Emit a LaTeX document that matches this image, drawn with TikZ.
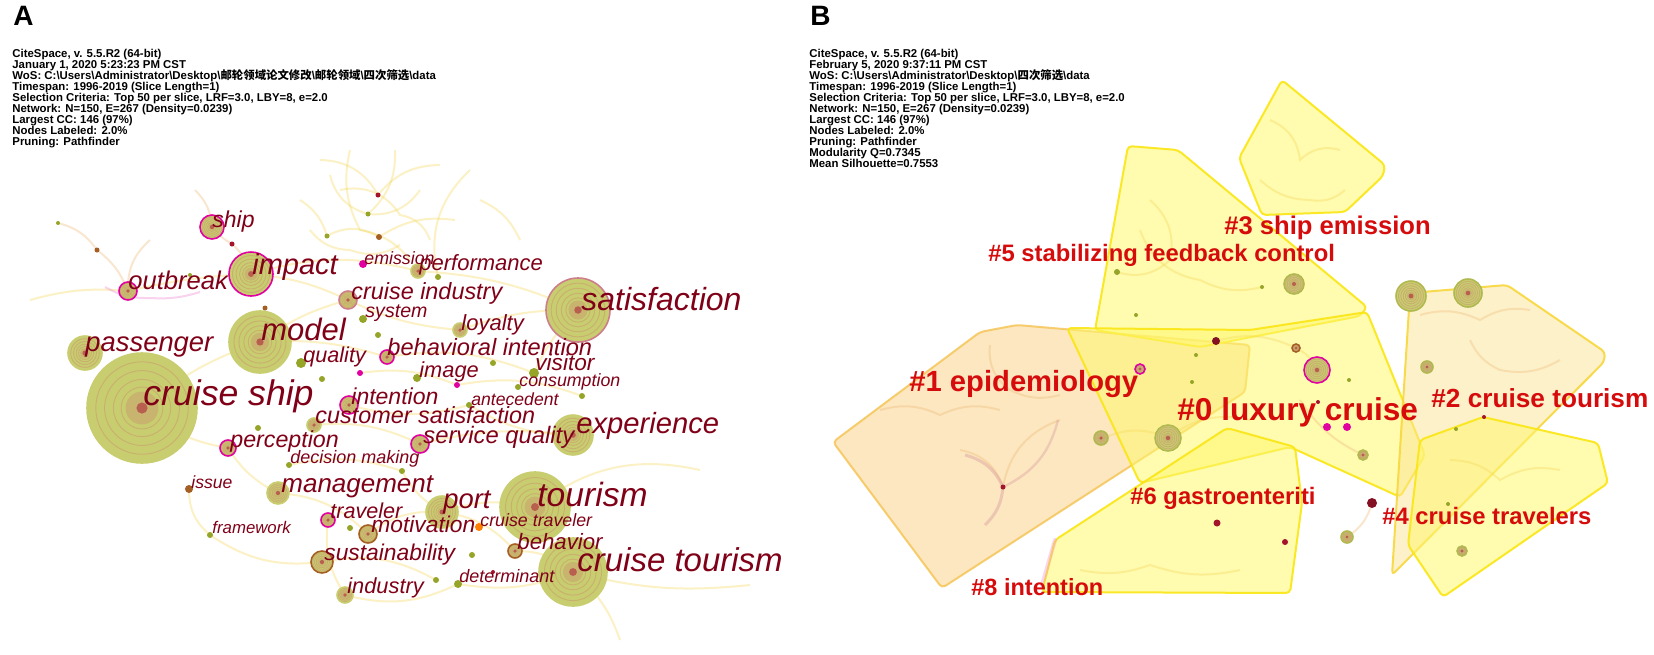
\documentclass[tikz,border=0pt]{standalone}
\usepackage{fontspec}
\setmainfont{Liberation Sans}
\newfontfamily\cjk{Noto Sans CJK SC}
\definecolor{kwred}{RGB}{128,0,24}
\definecolor{clred}{RGB}{214,12,12}
\definecolor{olv}{RGB}{200,206,112}
\definecolor{olvd}{RGB}{176,184,80}
\definecolor{ringb}{RGB}{200,150,110}
\definecolor{coreb}{RGB}{185,95,80}
\definecolor{dotg}{RGB}{150,165,40}
\definecolor{dotb}{RGB}{165,95,35}
\definecolor{dotr}{RGB}{165,20,45}
\definecolor{mag}{RGB}{225,0,160}
\definecolor{edgey}{RGB}{245,215,90}
\definecolor{edgeo}{RGB}{240,185,120}
\definecolor{polyy}{RGB}{255,248,110}
\definecolor{polyyb}{RGB}{250,230,20}
\definecolor{polyo}{RGB}{250,215,150}
\definecolor{polyob}{RGB}{245,195,80}
\definecolor{polyp}{RGB}{252,228,150}
\definecolor{polypb}{RGB}{248,215,60}
\tikzset{
  hdr/.style={anchor=base west, inner sep=0pt, font=\fontsize{5.7}{5.7}\selectfont\bfseries},
  kwl/.style={anchor=base west, inner sep=0pt, text=kwred},
  cll/.style={anchor=base west, inner sep=0pt, text=clred},
  faint/.style={draw=edgey, line width=1pt, opacity=0.35},
  fainto/.style={draw=edgeo, line width=1pt, opacity=0.35},
  ypoly/.style={fill=polyy, fill opacity=0.55, draw=polyyb, line width=1pt, draw opacity=0.9, line join=round, rounded corners=2pt},
  opoly/.style={fill=polyo, fill opacity=0.6, draw=polyob, line width=1pt, draw opacity=0.8, line join=round, rounded corners=2pt},
  ppoly/.style={fill=polyp, fill opacity=0.5, draw=polypb, line width=1pt, draw opacity=0.9, line join=round, rounded corners=2pt},
}
% keyword label: name, x, baseline y, size (pt), text
\newcommand\kw[5]{\node[kwl, font=\fontsize{#4}{#4}\selectfont\itshape] (#1) at (#2,#3) {#5};}
% cluster label
\newcommand\cl[5]{\node[cll, font=\fontsize{#4}{#4}\selectfont\bfseries] (#1) at (#2,#3) {#5};}
% big citation node: x, y, r(px), ring colour
\newcommand\bnode[4]{%
  \fill[olv] (#1,#2) circle[radius=#3*0.5pt];
  \foreach \f in {0.84,0.68,0.52,0.38} {\draw[ringb, opacity=0.5, line width=0.5pt] (#1,#2) circle[radius=\f*#3*0.5pt];}
  \fill[ringb, opacity=0.45] (#1,#2) circle[radius=0.3*#3*0.5pt];
  \fill[coreb] (#1,#2) circle[radius=0.08*#3*0.5pt+0.6pt];
  \draw[#4, line width=0.8pt] (#1,#2) circle[radius=#3*0.5pt];}
% small dot: x y r colour
\newcommand\dt[4]{\fill[#4] (#1,#2) circle[radius=#3*0.5pt];}
\begin{document}
\begin{tikzpicture}[x=0.5pt,y=-0.5pt]
\useasboundingbox (0,0) rectangle (1654,654);
\fill[white] (0,0) rectangle (1654,654);

% ================= PANEL A =================
\node[anchor=base west, inner sep=0pt, font=\fontsize{14}{14}\selectfont\bfseries] (lblA) at (13,25) {A};
\foreach \t [count=\i] in {
 {CiteSpace, v. 5.5.R2 (64-bit)},
 {January 1, 2020 5:23:23 PM CST},
 {WoS: C:\textbackslash Users\textbackslash Administrator\textbackslash Desktop\textbackslash{\cjk 邮轮领域论文修改}\textbackslash{\cjk 邮轮领域}\textbackslash{\cjk 四次筛选}\textbackslash data},
 {Timespan: 1996-2019 (Slice Length=1)},
 {Selection Criteria: Top 50 per slice, LRF=3.0, LBY=8, e=2.0},
 {Network: N=150, E=267 (Density=0.0239)},
 {Largest CC: 146 (97\%)},
 {Nodes Labeled: 2.0\%},
 {Pruning: Pathfinder}}
 {\node[hdr] (ha\i) at (12,{57+11.1*(\i-1)}) {\t};}

% faint links, panel A
\begin{scope}
\draw[faint] (320,160) to[bend left=30] (378,195) to[bend left=25] (440,165);
\draw[faint] (330,175) to[bend right=30] (368,214) to[bend right=30] (420,190);
\draw[faint] (300,200) to[bend left=20] (327,236) to[bend left=30] (379,237) to[bend left=20] (455,220);
\draw[faint] (350,150) to[bend right=20] (360,230) to[bend left=20] (410,260);
\draw[faint] (395,150) to[bend left=25] (368,214);
\draw[faint] (340,190) to[bend left=35] (400,215) to[bend left=30] (430,240);
\draw[faint] (310,230) to[bend right=25] (350,250) to[bend right=25] (400,245);
\draw[faint] (470,170) to[bend right=30] (438,277);
\draw[faint] (480,200) to[bend left=20] (520,240);
\draw[fainto] (195,190) to[bend left=20] (212,227) to[bend right=10] (232,244) to[bend left=15] (251,274);
\draw[fainto] (58,223) to[bend left=20] (97,250) to[bend left=15] (128,291);
\draw[fainto] (150,240) to[bend right=25] (128,291);
\draw[faint] (30,300) to[bend left=10] (128,291) to[bend left=5] (251,274) to[bend left=10] (348,300);
\draw[draw=mag!50, line width=1pt, opacity=0.35] (105,287) to[bend right=15] (150,298) to[bend right=10] (200,292);
\draw[faint] (251,274) to[bend left=15] (418,271) to[bend left=10] (578,310);
\draw[faint] (260,342) to[bend left=10] (348,300) to[bend right=10] (460,330) to[bend left=10] (578,310);
\draw[faint] (142,408) to[bend left=10] (260,342) to[bend left=10] (387,357);
\draw[faint] (387,357) to[bend left=15] (534,373) to[bend left=10] (578,310);
\draw[faint] (360,373) to[bend left=15] (457,385) to[bend left=15] (582,396);
\draw[faint] (349,405) to[bend right=15] (469,405) to[bend right=15] (573,435);
\draw[faint] (142,408) to[bend right=15] (228,448) to[bend right=15] (278,493);
\draw[faint] (314,425) to[bend left=15] (420,444) to[bend left=10] (573,435);
\draw[faint] (189,489) to[bend right=25] (210,535) to[bend right=20] (322,562);
\draw[faint] (278,493) to[bend left=20] (368,534) to[bend left=20] (442,512) to[bend left=15] (535,507);
\draw[faint] (328,520) to[bend right=20] (345,595) to[bend right=20] (458,584) to[bend right=15] (573,572);
\draw[faint] (322,562) to[bend left=20] (436,580);
\draw[faint] (442,512) to[bend left=20] (515,551) to[bend left=20] (573,572);
\draw[faint] (535,507) to[bend left=25] (700,470);
\draw[faint] (573,572) to[bend right=10] (750,585);
\draw[faint] (573,572) to[bend left=15] (620,640);
\draw[faint] (402,471) to[bend right=15] (442,512);
\draw[faint] (289,465) to[bend left=15] (402,471);
\end{scope}

% big nodes
\bnode{142}{408}{55}{olv}
\bnode{260}{342}{31}{olv}
\bnode{578}{310}{32}{dotr!55}
\bnode{535}{507}{35}{olv}
\bnode{573}{572}{34}{olv}
\bnode{573}{435}{20}{olv}
\bnode{85}{353}{17}{olv}
\bnode{251}{274}{22}{mag}
\bnode{212}{227}{12}{mag}
\bnode{128}{291}{9}{mag}
\bnode{442}{512}{16}{olv}
\bnode{348}{300}{9}{dotr!55}
\bnode{278}{493}{11}{olv}
\bnode{322}{562}{11}{dotb}
\bnode{349}{405}{9}{mag}
\bnode{420}{444}{9}{mag}
\bnode{228}{448}{8}{mag}
\bnode{368}{534}{9}{dotb}
\bnode{345}{595}{8}{olv}
\bnode{328}{520}{7}{mag}
\bnode{387}{357}{7}{mag}
\bnode{314}{425}{7}{olv}
\bnode{460}{330}{7}{olv}
\bnode{515}{551}{7}{dotb}
\bnode{418}{271}{7}{olv}
% small dots
\dt{363}{264}{4}{mag}
\dt{363}{319}{4}{dotg}
\dt{301}{363}{5}{dotg}
\dt{417}{378}{4}{dotg}
\dt{360}{373}{3}{mag}
\dt{534}{373}{5}{dotg}
\dt{518}{387}{3}{dotg}
\dt{469}{405}{3}{dotg}
\dt{289}{465}{3}{dotg}
\dt{189}{489}{4}{dotb}
\dt{479}{527}{4}{orange}
\dt{210}{535}{3}{dotg}
\dt{458}{584}{4}{dotg}
\dt{402}{471}{3}{dotg}
\dt{350}{528}{3}{dotg}
\dt{436}{580}{3}{dotg}
\dt{472}{555}{3}{dotg}
\dt{258}{428}{3}{dotg}
\dt{493}{572}{2}{dotr}
\dt{378}{335}{3}{dotg}
\dt{322}{379}{3}{dotg}
\dt{438}{277}{3}{dotg}
\dt{232}{244}{2.5}{dotr}
\dt{97}{250}{2.5}{dotb}
\dt{58}{223}{2}{dotg}
\dt{378}{195}{2.5}{dotr}
\dt{368}{214}{2.5}{dotg}
\dt{379}{237}{3}{dotb}
\dt{327}{236}{2.5}{dotg}
\dt{190}{275}{2}{dotg}
\dt{265}{308}{2.5}{dotb}
\dt{493}{363}{3}{dotg}
\dt{582}{396}{3}{dotg}
\dt{457}{385}{3}{mag}

% keyword labels
\kw{kship}{212}{227}{11.5}{ship}
\kw{kimpact}{252}{274}{14.5}{impact}
\kw{koutbreak}{128}{289}{12.8}{outbreak}
\kw{kemission}{364}{264}{8.9}{emission}
\kw{kperf}{419}{270}{11}{performance}
\kw{kcind}{351}{299}{11.7}{cruise industry}
\kw{ksystem}{365}{317}{9.8}{system}
\kw{ksatis}{581}{310}{16}{satisfaction}
\kw{kloyal}{461}{330}{11}{loyalty}
\kw{kmodel}{261}{340}{15.5}{model}
\kw{kpass}{85}{351}{13.7}{passenger}
\kw{kqual}{303}{362}{10.8}{quality}
\kw{kbint}{387}{355}{11.8}{behavioral intention}
\kw{kimage}{419}{377}{10.9}{image}
\kw{kvisitor}{535}{370}{11.3}{visitor}
\kw{kconsum}{519}{386}{8.9}{consumption}
\kw{kcship}{143}{405}{17.8}{cruise ship}
\kw{kintent}{351}{404}{11.5}{intention}
\kw{kantec}{471}{405}{8.8}{antecedent}
\kw{kcsat}{315}{423}{11.7}{customer satisfaction}
\kw{kexper}{576}{433}{14.6}{experience}
\kw{ksq}{423}{443}{11.9}{service quality}
\kw{kperc}{230}{447}{11.6}{perception}
\kw{kdecis}{290}{463}{9}{decision making}
\kw{kissue}{191}{488}{8.8}{issue}
\kw{kmanag}{281}{492}{13}{management}
\kw{kport}{443}{508}{13.7}{port}
\kw{ktour}{537}{506}{16.8}{tourism}
\kw{ktrav}{330}{518}{10.8}{traveler}
\kw{kmotiv}{371}{532}{11.4}{motivation}
\kw{kctrav}{480}{526}{8.9}{cruise traveler}
\kw{kframe}{212}{533}{8.4}{framework}
\kw{kbehav}{517}{549}{11.1}{behavior}
\kw{ksust}{324}{560}{11.4}{sustainability}
\kw{kctour}{577}{571}{16.5}{cruise tourism}
\kw{kdeterm}{459}{582}{9}{determinant}
\kw{kindus}{347}{593}{10.9}{industry}

% ================= PANEL B =================
\node[anchor=base west, inner sep=0pt, font=\fontsize{14}{14}\selectfont\bfseries] (lblB) at (810,25) {B};
\foreach \t [count=\i] in {
 {CiteSpace, v. 5.5.R2 (64-bit)},
 {February 5, 2020 9:37:11 PM CST},
 {WoS: C:\textbackslash Users\textbackslash Administrator\textbackslash Desktop\textbackslash{\cjk 四次筛选}\textbackslash data},
 {Timespan: 1996-2019 (Slice Length=1)},
 {Selection Criteria: Top 50 per slice, LRF=3.0, LBY=8, e=2.0},
 {Network: N=150, E=267 (Density=0.0239)},
 {Largest CC: 146 (97\%)},
 {Nodes Labeled: 2.0\%},
 {Pruning: Pathfinder},
 {Modularity Q=0.7345},
 {Mean Silhouette=0.7553}}
 {\node[hdr] (hb\i) at (809,{57+11*(\i-1)}) {\t};}

% cluster polygons
\path[opoly] (833,442) -- (980,332) -- (1017,325) -- (1250,345) -- (1245,392) -- (942,588) -- cycle;
\path[ypoly] (1128,146) -- (1178,150) -- (1367,307) -- (1360,316) -- (1200,347) -- (1095,330) -- cycle;
\path[ypoly] (1282,80) -- (1385,165) -- (1383,176) -- (1345,212) -- (1262,215) -- (1239,158) -- cycle;
\path[ypoly] (1067,328) -- (1250,330) -- (1367,312) -- (1425,455) -- (1400,497) -- (1290,447) -- (1140,483) -- cycle;
\path[ppoly] (1410,293) -- (1507,285) -- (1605,352) -- (1604,362) -- (1392,575) -- cycle;
\path[ypoly] (1483,417) -- (1598,443) -- (1608,483) -- (1443,597) -- (1408,545) -- (1420,440) -- cycle;
\path[ypoly] (1227,428) -- (1295,447) -- (1302,503) -- (1290,593) -- (1042,592) -- (1055,540) -- cycle;
\draw[draw=mag!40, line width=2pt, opacity=0.4, line cap=round] (1055,540) -- (1042,585);

% faint links, panel B
\begin{scope}
\draw[fainto] (960,450) to[bend left=30] (1003,487) to[bend left=30] (1060,420);
\draw[draw=dotr!50, line width=1.5pt, opacity=0.35] (965,455) to[bend left=25] (1003,487) to[bend left=20] (985,525);
\draw[draw=dotr!50, line width=1.2pt, opacity=0.3] (1003,487) to[bend right=25] (1058,420);
\draw[fainto] (880,410) to[bend left=20] (940,415) to[bend left=20] (1000,410);
\draw[fainto] (990,345) to[bend right=30] (1010,390) to[bend right=20] (1060,395);
\draw[faint] (1150,200) to[bend left=30] (1170,260) to[bend left=30] (1117,272);
\draw[faint] (1140,230) to[bend right=30] (1200,280) to[bend right=20] (1262,287);
\draw[faint] (1270,120) to[bend left=30] (1300,160) to[bend left=30] (1340,150);
\draw[faint] (1260,180) to[bend right=20] (1310,200) to[bend right=25] (1345,190);
\draw[fainto] (1420,315) to[bend left=20] (1480,320) to[bend left=20] (1530,310);
\draw[fainto] (1470,340) to[bend right=20] (1500,370) to[bend right=20] (1560,360);
\draw[faint] (1450,460) to[bend left=20] (1500,480) to[bend left=20] (1560,470);
\draw[faint] (1080,570) to[bend right=15] (1150,565) to[bend right=15] (1240,570);
\draw[faint] (1100,440) to[bend left=25] (1168,438) to[bend left=25] (1250,420);
\draw[faint] (1216,341) to[bend left=20] (1296,348) to[bend left=20] (1317,370);
\draw[fainto] (1372,503) to[bend left=20] (1347,537);
\draw[fainto] (1300,400) to[bend right=15] (1363,455);
\end{scope}

% nodes panel B
\bnode{1294}{284}{10}{olvd}
\bnode{1411}{296}{15}{olvd}
\bnode{1468}{293}{14}{olvd}
\bnode{1317}{370}{13}{mag}
\bnode{1168}{438}{13}{olvd}
\bnode{1101}{438}{7}{olvd}
\bnode{1140}{369}{5}{mag}
\bnode{1427}{367}{6}{olvd}
\bnode{1363}{455}{5}{olvd}
\bnode{1347}{537}{6}{olvd}
\bnode{1462}{551}{5}{olvd}
\bnode{1296}{348}{4}{dotb}
\dt{1117}{272}{3}{dotg}
\dt{1136}{315}{2}{dotg}
\dt{1216}{341}{4}{dotr!80!black}
\dt{1196}{355}{2}{dotg}
\dt{1262}{287}{2}{dotg}
\dt{1192}{382}{2}{dotg}
\dt{1003}{487}{2.5}{dotr}
\dt{1217}{523}{3.5}{dotr}
\dt{1349}{380}{2}{dotg}
\dt{1318}{402}{2}{dotr}
\dt{1327}{427}{4}{mag}
\dt{1347}{427}{4}{mag}
\dt{1484}{417}{2}{dotr}
\dt{1456}{429}{2}{dotg}
\dt{1372}{503}{5}{dotr!80!black}
\dt{1448}{504}{2}{dotg}
\dt{1285}{542}{3}{dotr}

% cluster labels
\cl{c5}{988}{261}{11.9}{\#5 stabilizing feedback control}
\cl{c3}{1224}{234}{12.8}{\#3 ship emission}
\cl{c1}{909}{391}{14.6}{\#1 epidemiology}
\cl{c0}{1177}{420}{15.8}{\#0 luxury cruise}
\cl{c2}{1431}{407}{13.1}{\#2 cruise tourism}
\cl{c4}{1382}{524}{11.9}{\#4 cruise travelers}
\cl{c6}{1130}{504}{11.9}{\#6 gastroenteriti}
\cl{c8}{971}{595}{11.75}{\#8 intention}
\end{tikzpicture}
\end{document}
